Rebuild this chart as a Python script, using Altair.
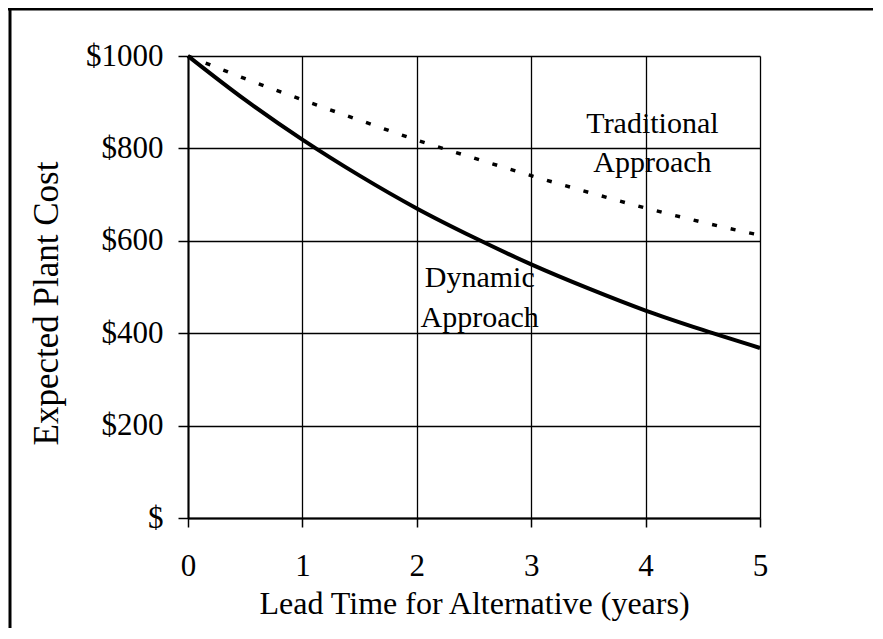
import altair as alt
import pandas as pd

years = [0, 0.5, 1, 1.5, 2, 2.5, 3, 3.5, 4, 4.5, 5]
dynamic_cost = [1000, 905, 819, 741, 670, 607, 549, 497, 449, 407, 368]
traditional_cost = [1000, 951, 905, 861, 818, 779, 741, 705, 671, 640, 612]

label_text = ["Traditional", "Approach", "Dynamic", "Approach"]
label_x = [4.06, 4.06, 2.55, 2.55]
label_y = [833, 749, 500, 413]

x_ticks = [0, 1, 2, 3, 4, 5]
y_ticks = [0, 200, 400, 600, 800, 1000]

FONT = "Liberation Serif"

df_dyn = pd.DataFrame({"year": years, "cost": dynamic_cost})
df_trad = pd.DataFrame({"year": years, "cost": traditional_cost})
df_lab = pd.DataFrame({"text": label_text, "year": label_x, "cost": label_y})

x_enc = alt.X(
    "year:Q",
    scale=alt.Scale(domain=[0, 5], nice=False),
    axis=alt.Axis(
        values=x_ticks,
        title="Lead Time for Alternative (years)",
        titleY=95,
        titleBaseline="alphabetic",
        titleFontSize=32,
        labelBaseline="alphabetic",
        labelPadding=48,
        labelFontSize=31,
        labelFlush=False,
        tickSize=9,
        format="d",
    ),
)
y_enc = alt.Y(
    "cost:Q",
    scale=alt.Scale(domain=[0, 1000], nice=False),
    axis=alt.Axis(
        values=y_ticks,
        title="Expected Plant Cost",
        titleX=-131,
        titleY=247,
        titleAngle=270,
        titleBaseline="alphabetic",
        titleAlign="center",
        titleFontSize=35,
        labelExpr="datum.value == 0 ? '$' : '$' + datum.value",
        labelPadding=15,
        labelFontSize=31,
        labelFlush=False,
        tickSize=10,
    ),
)

dyn = alt.Chart(df_dyn).mark_line(
    color="black", strokeWidth=4, interpolate="monotone"
).encode(x=x_enc, y=y_enc)

trad = alt.Chart(df_trad).mark_line(
    color="black", strokeWidth=3.5, strokeDash=[5, 14], interpolate="monotone"
).encode(x="year:Q", y="cost:Q")

labels = alt.Chart(df_lab).mark_text(
    font=FONT, fontSize=30, align="center", baseline="alphabetic", color="black"
).encode(x="year:Q", y="cost:Q", text="text:N")

border_df = pd.DataFrame({"a": [0]})
left_border = alt.Chart(border_df).mark_rule(color="black", strokeWidth=3).encode(
    x=alt.value(-178), y=alt.value(-48), y2=alt.value(572)
)
top_border = alt.Chart(border_df).mark_rule(color="black", strokeWidth=3).encode(
    x=alt.value(-180), x2=alt.value(685), y=alt.value(-47)
)

chart = (
    alt.layer(dyn, trad, labels, left_border, top_border)
    .properties(
        width=572,
        height=462,
        autosize=alt.AutoSizeParams(type="none"),
        padding={"left": 180, "top": 48, "right": 113, "bottom": 110},
        background="white",
    )
    .configure_view(stroke=None)
    .configure_axis(
        grid=True,
        gridColor="black",
        gridWidth=1.3,
        gridOpacity=1,
        domainColor="black",
        domainWidth=2,
        tickColor="black",
        tickWidth=1.5,
        labelFont=FONT,
        labelColor="black",
        titleFont=FONT,
        titleFontWeight="normal",
        titleColor="black",
    )
)

chart.save("out.html", embed_options={"renderer": "svg", "actions": False})
